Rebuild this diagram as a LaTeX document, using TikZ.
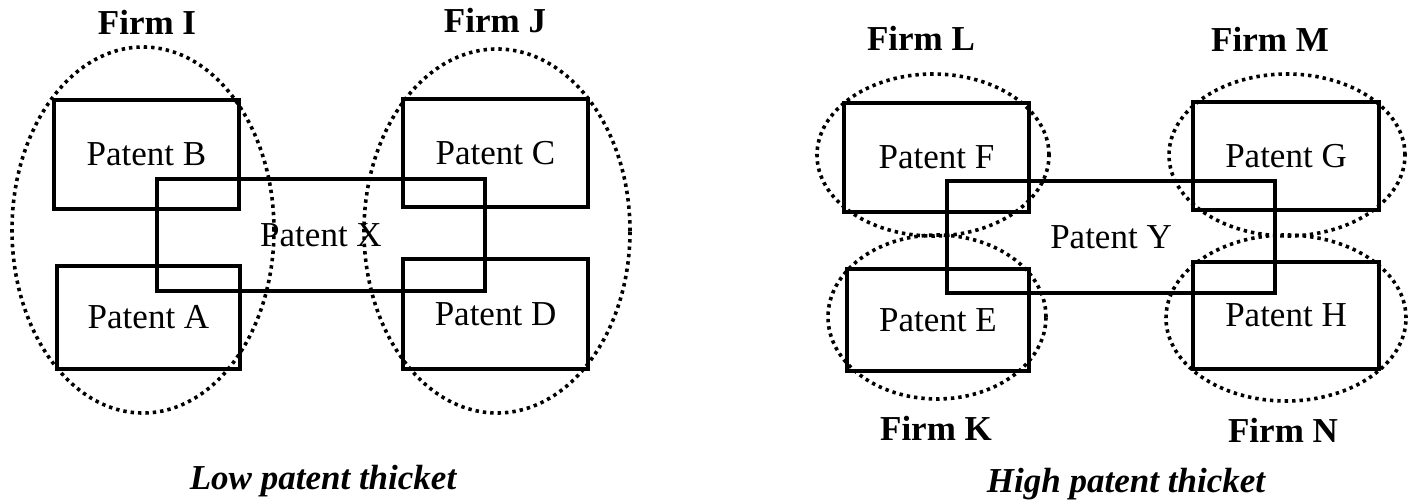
\documentclass[tikz,border=0pt]{standalone}
\usepackage{fontspec}
\setmainfont{Liberation Serif}
\usetikzlibrary{shapes.geometric}

\tikzset{
  patent/.style={draw, line width=3.3pt, inner sep=0pt, font=\fontsize{35}{40}\selectfont},
  firm/.style={draw, ellipse, inner sep=0pt, line width=3.6pt, dash pattern=on 3.4pt off 4pt},
  firmlabel/.style={font=\fontsize{35}{40}\selectfont\bfseries},
  thicket/.style={font=\fontsize{35}{40}\selectfont\bfseries\itshape}
}

\begin{document}
\begin{tikzpicture}[x=1pt, y=-1pt]
\useasboundingbox (0,0) rectangle (1413,502);
% firms
\foreach \n/\x/\y/\w/\h in {I/143/230/262pt/366pt, J/497/231/266pt/364pt, L/933/155/232pt/162pt,
    K/937/317/218pt/164pt, M/1287/155/236pt/162pt, N/1286/318/240pt/166pt} {
  \node[firm, minimum width=\w, minimum height=\h] (f\n) at (\x,\y) {};
}
% patents
\foreach \n/\x/\y/\w/\h in {B/146.5/154.5/185pt/109pt, A/148.5/317.5/183pt/103pt, C/495.5/153/185pt/108pt,
    D/495.5/314/185pt/110pt, X/321/235/328pt/112pt, F/936.5/157.5/185pt/109pt, E/938/320/182pt/102pt,
    G/1286/156/186pt/108pt, H/1286/315.5/186pt/107pt, Y/1111/237/328pt/112pt} {
  \node[patent, minimum width=\w, minimum height=\h] (p\n) at (\x,\y) {Patent \n};
}
% labels
\foreach \n/\x/\y in {I/147/22, J/495/21, L/921/38, M/1270/39, K/936/428, N/1283/430} {
  \node[firmlabel] (l\n) at (\x,\y) {Firm \n};
}
\node[thicket] (low) at (323,481) {Low patent thicket};
\node[thicket] (high) at (1126,484) {High patent thicket};
\end{tikzpicture}
\end{document}
